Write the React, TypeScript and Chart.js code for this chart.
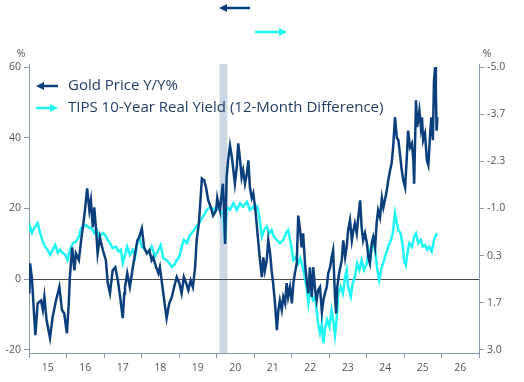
import React, { useEffect, useRef } from 'react';
import { Chart, registerables } from 'chart.js';
Chart.register(...registerables);

// Gold Price Y/Y% (left axis, %)
const goldT = [2015.00,2015.01,2015.03,2015.08,2015.14,2015.17,2015.23,2015.32,2015.37,2015.41,2015.47,2015.56,2015.63,2015.72,2015.81,2015.88,2015.94,2016.01,2016.06,2016.09,2016.15,2016.21,2016.25,2016.33,2016.39,2016.45,2016.50,2016.55,2016.61,2016.65,2016.70,2016.74,2016.79,2016.83,2016.89,2016.97,2017.05,2017.10,2017.16,2017.23,2017.30,2017.37,2017.43,2017.50,2017.54,2017.56,2017.62,2017.69,2017.77,2017.83,2017.89,2017.94,2018.01,2018.07,2018.14,2018.21,2018.27,2018.31,2018.39,2018.45,2018.49,2018.57,2018.63,2018.67,2018.74,2018.81,2018.87,2018.94,2019.01,2019.07,2019.13,2019.19,2019.25,2019.31,2019.37,2019.43,2019.47,2019.53,2019.56,2019.61,2019.67,2019.72,2019.78,2019.85,2019.91,2019.99,2020.02,2020.07,2020.09,2020.17,2020.20,2020.23,2020.27,2020.31,2020.36,2020.41,2020.45,2020.49,2020.54,2020.58,2020.63,2020.67,2020.71,2020.76,2020.81,2020.85,2020.89,2020.94,2020.98,2021.03,2021.07,2021.11,2021.16,2021.21,2021.25,2021.29,2021.34,2021.38,2021.43,2021.47,2021.51,2021.56,2021.61,2021.65,2021.69,2021.74,2021.78,2021.83,2021.87,2021.91,2021.96,2022.01,2022.05,2022.09,2022.14,2022.18,2022.23,2022.27,2022.31,2022.36,2022.41,2022.45,2022.49,2022.54,2022.58,2022.63,2022.67,2022.71,2022.76,2022.81,2022.85,2022.89,2022.94,2022.98,2023.03,2023.07,2023.11,2023.16,2023.19,2023.22,2023.27,2023.34,2023.38,2023.43,2023.47,2023.51,2023.56,2023.61,2023.65,2023.69,2023.74,2023.78,2023.83,2023.87,2023.91,2023.96,2024.01,2024.05,2024.09,2024.14,2024.18,2024.23,2024.27,2024.31,2024.36,2024.41,2024.45,2024.49,2024.54,2024.58,2024.63,2024.67,2024.71,2024.76,2024.81,2024.85,2024.89,2024.94,2024.98,2025.03,2025.07,2025.11,2025.16,2025.21,2025.25,2025.27,2025.32,2025.35,2025.41,2025.45,2025.48,2025.51,2025.56,2025.61,2025.65,2025.69,2025.73,2025.77,2025.80,2025.83,2025.85,2025.87,2025.89];
const goldV = [-1,-4,4.5,0,-10.7,-15.8,-6.8,-6,-8.7,-5,-11.6,-16.6,-10.7,-6,-2.2,-8.7,-9.7,-15.3,-6.8,0.6,9,2.5,7.3,5.4,11,15.8,20.3,25.7,19.5,22.3,14.7,20.3,13.8,7.3,11.9,8.2,5.4,-1.1,-4,2.5,3.4,-0.3,-5,-11,-4,-2.2,1.7,-2.2,3.4,7.3,11,11.9,14.4,9,7.3,8.2,5.4,6.2,3.4,1.7,3.4,-3.1,-7.9,-11,-6.8,-5,-2.2,0.6,-1.1,-4,0.6,-1.1,-3.1,-0.3,-2.2,3.4,11,15.8,20.3,28.5,28,26,22.3,20.3,18,19.5,23,20.3,19.5,27,20.3,10,28.8,33.6,37.8,34.5,30.8,27,31.6,38.4,33.6,28.8,30.8,27,29.9,33.6,26,23,24.3,20.3,15.8,11,5.4,0.6,6.2,2.5,5.4,11,7.3,2.5,-1.1,-6.8,-14.4,-8.7,-6,-8.7,-5,-6.8,-1.1,-5,-2.2,-6.8,-1.1,1.7,4.5,18,13.8,9,13,4.5,-1,-4,3.4,-5,3.4,-3.1,-6,-3.1,-2.2,-9.3,-6,-4,-2.2,1.7,3.4,6.2,8.2,-5,-9.7,-2.2,1.7,5.4,11,6.2,9,13.8,16.7,11,13.8,15.8,13,17.5,22.3,14.7,11,13,10.2,6.2,4.5,10.2,11.9,9,15.8,19.5,17.5,23,20.3,22.3,25,28,30.8,32.8,37.3,45.8,40,39.3,35.6,30.8,28,26,33.6,42,37.3,38.4,33.6,27,50.6,43,47.7,43,45.8,39.3,41.2,33.6,32.2,40,45.8,39.3,56.2,60,52.5,42,45.8];

// TIPS 10-Year Real Yield, 12-month difference (right axis, %, inverted)
const tipsT = [2015.00,2015.03,2015.08,2015.14,2015.23,2015.29,2015.37,2015.43,2015.50,2015.56,2015.63,2015.70,2015.77,2015.83,2015.90,2015.97,2016.03,2016.09,2016.17,2016.25,2016.33,2016.39,2016.45,2016.52,2016.61,2016.68,2016.74,2016.81,2016.87,2016.97,2017.03,2017.10,2017.16,2017.23,2017.32,2017.39,2017.45,2017.50,2017.56,2017.62,2017.69,2017.77,2017.83,2017.89,2017.94,2018.01,2018.09,2018.18,2018.27,2018.36,2018.45,2018.51,2018.58,2018.67,2018.74,2018.81,2018.87,2018.94,2019.01,2019.07,2019.13,2019.21,2019.27,2019.34,2019.40,2019.47,2019.54,2019.61,2019.67,2019.74,2019.83,2019.91,2020.01,2020.07,2020.18,2020.23,2020.27,2020.36,2020.45,2020.54,2020.63,2020.71,2020.81,2020.89,2020.97,2021.03,2021.09,2021.14,2021.21,2021.27,2021.34,2021.41,2021.47,2021.53,2021.61,2021.69,2021.78,2021.85,2021.91,2021.98,2022.05,2022.12,2022.18,2022.23,2022.31,2022.40,2022.45,2022.49,2022.57,2022.63,2022.67,2022.71,2022.76,2022.81,2022.85,2022.89,2022.95,2023.01,2023.07,2023.11,2023.16,2023.21,2023.25,2023.31,2023.37,2023.43,2023.47,2023.51,2023.58,2023.63,2023.69,2023.75,2023.81,2023.87,2023.93,2024.01,2024.06,2024.11,2024.17,2024.23,2024.29,2024.34,2024.41,2024.47,2024.52,2024.58,2024.65,2024.70,2024.76,2024.81,2024.85,2024.91,2024.97,2025.00,2025.05,2025.09,2025.14,2025.21,2025.27,2025.32,2025.38,2025.45,2025.50,2025.56,2025.62,2025.67,2025.74,2025.80,2025.85,2025.89];
const tipsV = [-0.34,-0.49,-0.31,-0.45,-0.59,-0.34,-0.06,0.08,0.17,0.31,0.17,0.03,0.26,0.17,0.26,0.31,0.46,0.17,-0.02,-0.06,-0.20,-0.45,-0.49,-0.53,-0.45,-0.45,-0.31,-0.39,-0.20,-0.31,-0.25,-0.11,-0.02,0.12,0.08,0.22,0.17,0.54,0.31,0.08,0.31,0.17,0.36,-0.02,-0.20,0.08,0.17,0.26,0.08,0.36,0.17,0.03,0.40,0.46,0.54,0.65,0.60,0.46,0.36,0.08,-0.11,-0.02,-0.20,-0.31,-0.39,-0.49,-0.59,-0.73,-0.82,-0.96,-1.05,-0.96,-1.05,-0.96,-0.86,-0.02,-1.05,-0.96,-1.15,-0.96,-1.15,-1.05,-1.19,-0.96,-1.05,-0.96,-1.05,-0.77,-0.20,-0.39,-0.49,-0.30,-0.39,-0.20,-0.11,-0.02,-0.11,-0.30,-0.39,-0.02,0.46,0.36,0.55,0.40,0.69,1.21,1.68,1.30,1.59,1.49,1.87,2.25,2.53,2.25,2.81,2.43,2.15,2.34,1.87,2.15,2.58,2.06,1.40,1.21,1.40,0.93,0.74,1.21,1.49,1.11,0.93,0.55,0.74,0.46,0.74,0.55,0.17,0.36,-0.11,0.17,0.74,1.02,0.65,0.46,0.27,0.08,-0.11,-0.30,-0.86,-0.58,-0.39,-0.30,0.08,0.46,0.60,0.27,-0.02,0.08,-0.20,-0.30,-0.02,-0.11,0.08,0.03,0.17,0.08,0.22,-0.11,-0.25,-0.30];

const yearLabels = ['15', '16', '17', '18', '19', '20', '21', '22', '23', '24', '25', '26'];
const firstYear = 2015;
const leftTicks = [-20, 0, 20, 40, 60];
const rightTicks = [-5.0, -5 + 8 / 6, -5 + 16 / 6, -1.0, -5 + 32 / 6, -5 + 40 / 6, 3.0];
const recession = [2020.083, 2020.29];
const legendLabels = ['Gold Price Y/Y%', 'TIPS 10-Year Real Yield (12-Month Difference)'];

const GOLD = '#0b3f7b';
const TIPS = '#1ff5f5';
const AXIS = '#8797ad';
const TICKTXT = '#555555';
const LEGTXT = '#1d3a5f';
const FONT = '"Open Sans", "Noto Sans", sans-serif';

function arrow(ctx: CanvasRenderingContext2D, x1: number, x2: number, y: number, color: string) {
  // arrow from x1 (tail) to x2 (head)
  const dir = x2 > x1 ? 1 : -1;
  const headLen = 8;
  ctx.save();
  ctx.strokeStyle = color;
  ctx.fillStyle = color;
  ctx.lineWidth = 2.5;
  ctx.beginPath();
  ctx.moveTo(x1, y);
  ctx.lineTo(x2 - dir * headLen * 0.6, y);
  ctx.stroke();
  ctx.beginPath();
  ctx.moveTo(x2, y);
  ctx.lineTo(x2 - dir * headLen, y - 4);
  ctx.lineTo(x2 - dir * headLen, y + 4);
  ctx.closePath();
  ctx.fill();
  ctx.restore();
}

const decorPlugin = {
  id: 'decor',
  beforeDatasetsDraw(chart: any) {
    const { ctx, chartArea } = chart;
    const xs = chart.scales.x;
    const ys = chart.scales.y;
    ctx.save();
    ctx.fillStyle = '#c9d8e2';
    const x0 = xs.getPixelForValue(recession[0]);
    const x1 = xs.getPixelForValue(recession[1]);
    ctx.fillRect(x0, chartArea.top, x1 - x0, chartArea.bottom - chartArea.top);
    const zy = Math.round(ys.getPixelForValue(0)) + 0.5;
    ctx.strokeStyle = '#4a4a4a';
    ctx.lineWidth = 1;
    ctx.beginPath();
    ctx.moveTo(chartArea.left, zy);
    ctx.lineTo(chartArea.right, zy);
    ctx.stroke();
    ctx.restore();
  },
  afterDraw(chart: any) {
    const { ctx, chartArea } = chart;
    ctx.save();
    ctx.fillStyle = TICKTXT;
    ctx.font = `10.5px ${FONT}`;
    ctx.textAlign = 'center';
    ctx.textBaseline = 'middle';
    ctx.fillText('%', 21, 54);
    ctx.fillText('%', 487, 54);

    // top arrows
    arrow(ctx, 250, 219, 8, GOLD);
    arrow(ctx, 255, 287, 32, TIPS);

    // legend
    arrow(ctx, 58, 36, 86, GOLD);
    arrow(ctx, 36, 58, 108, TIPS);
    ctx.fillStyle = LEGTXT;
    ctx.font = `15px ${FONT}`;
    ctx.textAlign = 'left';
    ctx.fillText(legendLabels[0], 68, 86);
    ctx.fillText(legendLabels[1], 68, 108);
    ctx.restore();
  },
};

export default function App() {
  const ref = useRef<HTMLCanvasElement | null>(null);
  useEffect(() => {
    if (!ref.current) return;
    const chart = new Chart(ref.current, {
      type: 'line',
      data: {
        datasets: [
          {
            label: legendLabels[0],
            data: goldT.map((t, i) => ({ x: t, y: goldV[i] })),
            borderColor: GOLD,
            borderWidth: 2.5,
            pointRadius: 0,
            tension: 0,
            yAxisID: 'y',
          },
          {
            label: legendLabels[1],
            data: tipsT.map((t, i) => ({ x: t, y: tipsV[i] })),
            borderColor: TIPS,
            borderWidth: 2.5,
            pointRadius: 0,
            tension: 0,
            yAxisID: 'y1',
          },
        ],
      },
      options: {
        responsive: false,
        animation: false,
        devicePixelRatio: 1,
        layout: { padding: { top: 64, left: 0, right: 0, bottom: 0 } },
        plugins: { legend: { display: false }, tooltip: { enabled: false } },
        scales: {
          x: {
            type: 'linear',
            min: firstYear,
            max: firstYear + yearLabels.length,
            afterBuildTicks: (s: any) => {
              const t: any[] = [];
              for (let i = 0; i <= yearLabels.length * 2; i++) t.push({ value: firstYear + i / 2 });
              s.ticks = t;
            },
            afterFit: (s: any) => { s.height = 29; },
            grid: {
              drawOnChartArea: false,
              drawTicks: true,
              tickLength: 5,
              color: (c: any) => (c.tick && Number.isInteger(c.tick.value) ? AXIS : 'rgba(0,0,0,0)'),
            },
            border: { color: AXIS, width: 1 },
            ticks: {
              autoSkip: false,
              maxRotation: 0,
              padding: 4,
              color: TICKTXT,
              font: { family: FONT, size: 10.5 },
              callback: (v: any) => {
                const n = Number(v);
                if (Number.isInteger(n)) return '';
                return yearLabels[Math.floor(n - firstYear)] ?? '';
              },
            },
          },
          y: {
            position: 'left',
            min: -20.85,
            max: 60.85,
            afterBuildTicks: (s: any) => { s.ticks = leftTicks.map((v) => ({ value: v })); },
            afterFit: (s: any) => { s.width = 29; },
            grid: { drawOnChartArea: false, drawTicks: true, tickLength: 5, color: AXIS },
            border: { color: AXIS, width: 1 },
            ticks: {
              padding: 3,
              color: TICKTXT,
              font: { family: FONT, size: 10.5 },
              callback: (v: any) => String(Math.round(Number(v))),
            },
          },
          y1: {
            position: 'right',
            reverse: true,
            min: -5.085,
            max: 3.085,
            afterBuildTicks: (s: any) => { s.ticks = rightTicks.map((v) => ({ value: v })); },
            afterFit: (s: any) => { s.width = 45; },
            grid: { drawOnChartArea: false, drawTicks: true, tickLength: 5, color: AXIS },
            border: { color: AXIS, width: 1 },
            ticks: {
              padding: 3,
              color: TICKTXT,
              font: { family: FONT, size: 10.5 },
              callback: (v: any) => Number(v).toFixed(1),
            },
          },
        },
      },
      plugins: [decorPlugin],
    });
    return () => chart.destroy();
  }, []);
  return (
    <div style={{ position: 'absolute', left: 0, top: 0, width: 524, height: 382, background: '#fff' }}>
      <canvas ref={ref} width={524} height={382} style={{ display: 'block' }} />
    </div>
  );
}
